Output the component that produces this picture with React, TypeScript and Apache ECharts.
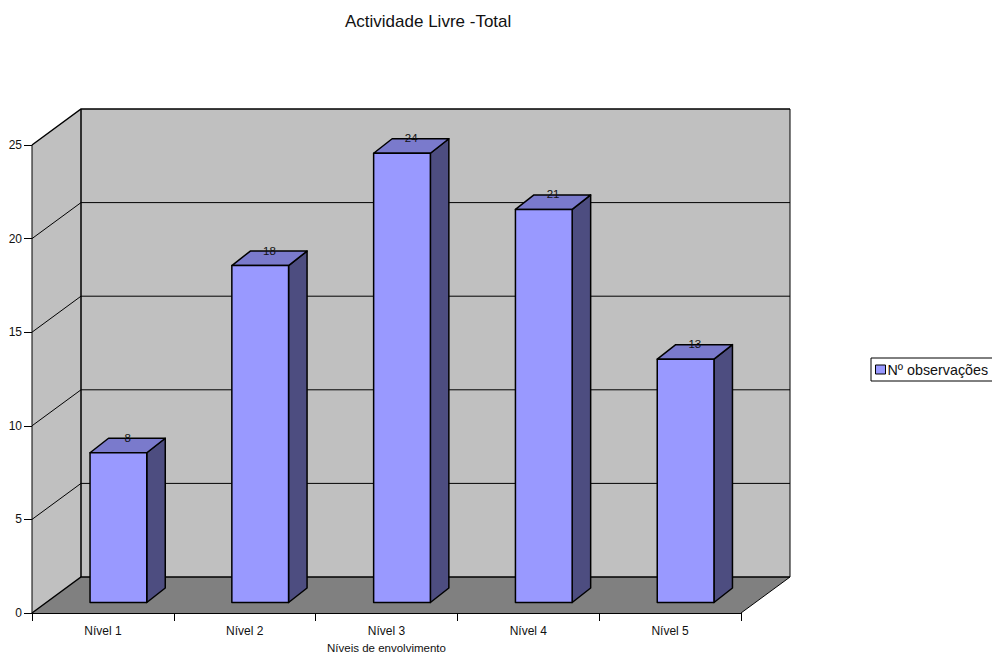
import React, { useEffect, useRef } from "react";
import * as echarts from "echarts";

const chartTitle = "Actividade Livre -Total";
const seriesName = "Nº observações";
const categoryAxisName = "Níveis de envolvimento";
const categories = ["Nível 1", "Nível 2", "Nível 3", "Nível 4", "Nível 5"];
const observations = [8, 18, 24, 21, 13];
const valueTicks = [0, 5, 10, 15, 20, 25];

const FONT = "'Liberation Sans', Arial, sans-serif";
const INK = "#000000";

// Oblique projection of the box: full depth of the walls, and where a bar sits inside it.
const WALL_DX = 49;
const WALL_DY = -36;
const BAR_SHIFT_X = 15.5;
const BAR_SHIFT_Y = -10.5;
const BAR_DX = 18.5;
const BAR_DY = -14.5;

const GRID = { left: 32, top: 145, width: 709, height: 468 };

function renderRoom(params: any, api: any) {
  if (params.dataIndex !== 0) return null;
  const s = params.coordSys;
  const x0 = s.x;
  const x1 = s.x + s.width;
  const yAt = (v: number) => api.coord([0, v])[1];
  const y0 = yAt(0);
  const yTop = yAt(valueTicks[valueTicks.length - 1]);
  const children: any[] = [
    {
      type: "polygon",
      shape: { points: [[x0, yTop], [x0 + WALL_DX, yTop + WALL_DY], [x0 + WALL_DX, y0 + WALL_DY], [x0, y0]] },
      style: { fill: "#C0C0C0" },
    },
    {
      type: "rect",
      shape: { x: x0 + WALL_DX, y: yTop + WALL_DY, width: x1 - x0, height: y0 - yTop },
      style: { fill: "#C0C0C0" },
    },
    {
      type: "polygon",
      shape: { points: [[x0, y0], [x0 + WALL_DX, y0 + WALL_DY], [x1 + WALL_DX, y0 + WALL_DY], [x1, y0]] },
      style: { fill: "#808080" },
    },
  ];
  // Gridlines run along the left wall, then across the back wall.
  valueTicks.forEach((tick) => {
    const y = yAt(tick);
    const heavy = tick === 0 || tick === valueTicks[valueTicks.length - 1];
    children.push({
      type: "polyline",
      shape: { points: [[x0, y], [x0 + WALL_DX, y + WALL_DY], [x1 + WALL_DX, y + WALL_DY]] },
      style: { fill: "none", stroke: INK, lineWidth: heavy ? 1.5 : 1 },
    });
  });
  const edges = [
    [[x0 + WALL_DX, yTop + WALL_DY], [x0 + WALL_DX, y0 + WALL_DY], 1.5],
    [[x1 + WALL_DX, yTop + WALL_DY], [x1 + WALL_DX, y0 + WALL_DY], 1],
    [[x1, y0], [x1 + WALL_DX, y0 + WALL_DY], 1],
    [[x0, yTop], [x0, y0], 1],
  ] as const;
  edges.forEach(([a, b, w]) => {
    children.push({
      type: "line",
      shape: { x1: a[0], y1: a[1], x2: b[0], y2: b[1] },
      style: { stroke: INK, lineWidth: w },
    });
  });
  return { type: "group", children };
}

function renderBar(_params: any, api: any) {
  const value = api.value(1);
  const top = api.coord([api.value(0), value]);
  const base = api.coord([api.value(0), 0]);
  const width = api.size([1, 0])[0] * 0.4;
  const l = top[0] + BAR_SHIFT_X - width / 2;
  const r = l + width;
  const t = top[1] + BAR_SHIFT_Y;
  const b = base[1] + BAR_SHIFT_Y;
  const outline = { stroke: INK, lineWidth: 1.5, lineJoin: "round" };
  return {
    type: "group",
    children: [
      {
        type: "polygon",
        shape: { points: [[r, t], [r + BAR_DX, t + BAR_DY], [r + BAR_DX, b + BAR_DY], [r, b]] },
        style: { fill: "#4D4D80", ...outline },
      },
      {
        type: "polygon",
        shape: { points: [[l, t], [l + BAR_DX, t + BAR_DY], [r + BAR_DX, t + BAR_DY], [r, t]] },
        style: { fill: "#7A7ACC", ...outline },
      },
      {
        type: "rect",
        shape: { x: l, y: t, width, height: b - t },
        style: { fill: "#9999FF", ...outline },
      },
      {
        type: "text",
        x: l + width / 2 + BAR_DX / 2,
        y: t + BAR_DY - 0.5,
        style: {
          text: String(value),
          fill: "#111111",
          font: `11.5px ${FONT}`,
          textAlign: "center",
          textVerticalAlign: "middle",
        },
      },
    ],
  };
}

export default function App() {
  const ref = useRef<HTMLDivElement>(null);

  useEffect(() => {
    const chart = echarts.init(ref.current!, undefined, { renderer: "svg" });
    chart.setOption({
      animation: false,
      backgroundColor: "#FFFFFF",
      title: {
        text: chartTitle,
        left: 340,
        top: 8,
        textStyle: { fontFamily: FONT, fontSize: 17, fontWeight: "normal", color: "#111111" },
      },
      legend: {
        left: 871,
        top: 358,
        padding: [4.5, 5, 4.5, 4],
        itemWidth: 10,
        itemHeight: 9,
        itemGap: 0,
        borderColor: INK,
        borderWidth: 1,
        icon: "rect",
        data: [seriesName],
        textStyle: { fontFamily: FONT, fontSize: 14.3, color: "#111111", padding: [0, 0, 0, -3] },
        itemStyle: { color: "#9999FF", borderColor: INK, borderWidth: 1 },
      },
      grid: { ...GRID, containLabel: false, outerBoundsMode: "none" },
      xAxis: {
        type: "category",
        data: categories,
        name: categoryAxisName,
        nameLocation: "middle",
        nameGap: 29,
        nameTextStyle: { fontFamily: FONT, fontSize: 11.5, color: "#111111" },
        axisLine: { lineStyle: { color: INK, width: 1 } },
        axisTick: { show: true, alignWithLabel: false, length: 8, lineStyle: { color: INK } },
        axisLabel: { fontFamily: FONT, fontSize: 12, color: "#111111", margin: 12 },
        splitLine: { show: false },
      },
      yAxis: {
        type: "value",
        min: 0,
        max: 25,
        interval: 5,
        axisLine: { show: true, lineStyle: { color: INK, width: 1 } },
        axisTick: { show: true, length: 8, lineStyle: { color: INK } },
        axisLabel: { fontFamily: FONT, fontSize: 12, color: "#111111", margin: 10 },
        splitLine: { show: false },
      },
      series: [
        {
          type: "custom",
          name: "room",
          coordinateSystem: "cartesian2d",
          renderItem: renderRoom,
          data: [[0, 0]],
          silent: true,
          z: 1,
          clip: false,
        },
        {
          type: "custom",
          name: seriesName,
          coordinateSystem: "cartesian2d",
          renderItem: renderBar,
          data: observations.map((v, i) => [i, v]),
          itemStyle: { color: "#9999FF" },
          encode: { x: 0, y: 1 },
          z: 2,
          clip: false,
        },
      ],
    });
    return () => chart.dispose();
  }, []);

  return <div ref={ref} style={{ position: "absolute", left: 0, top: 0, width: 992, height: 654 }} />;
}
